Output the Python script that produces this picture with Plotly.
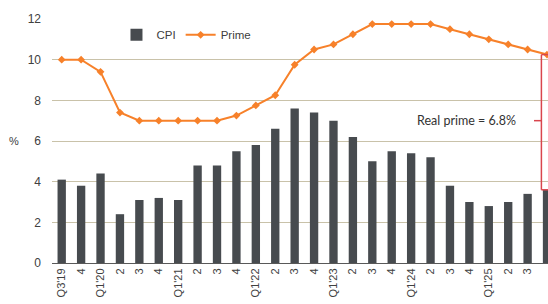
import plotly.graph_objects as go

quarters = ["Q3'19", "4", "Q1'20", "2", "3", "4", "Q1'21", "2", "3", "4", "Q1'22", "2", "3", "4",
            "Q1'23", "2", "3", "4", "Q1'24", "2", "3", "4", "Q1'25", "2", "3", "4"]
cpi = [4.1, 3.8, 4.4, 2.4, 3.1, 3.2, 3.1, 4.8, 4.8, 5.5, 5.8, 6.6, 7.6, 7.4,
       7.0, 6.2, 5.0, 5.5, 5.4, 5.2, 3.8, 3.0, 2.8, 3.0, 3.4, 3.6]
prime = [10.0, 10.0, 9.4, 7.4, 7.0, 7.0, 7.0, 7.0, 7.0, 7.25, 7.75, 8.25, 9.75, 10.5,
         10.75, 11.25, 11.75, 11.75, 11.75, 11.75, 11.5, 11.25, 11.0, 10.75, 10.5, 10.25]
y_ticks = [0, 2, 4, 6, 8, 10, 12]

x = list(range(len(quarters)))

fig = go.Figure()
fig.add_trace(go.Bar(x=x, y=cpi, name="CPI", marker=dict(color="#474b4f", line=dict(width=0)),
                     width=0.43))
fig.add_trace(go.Scatter(x=x, y=prime, name="Prime", mode="lines+markers",
                         line=dict(color="#f7812a", width=2),
                         marker=dict(symbol="diamond", size=6, color="#f7812a")))

red = "#d9454d"
bx = len(quarters) - 1 - 0.29
top = prime[-1]
bot = cpi[-1]
mid = 7.0
shapes = [
    dict(type="line", xref="x", yref="y", x0=bx, x1=bx, y0=bot, y1=top, line=dict(color=red, width=1.5)),
    dict(type="line", xref="x", yref="y", x0=bx, x1=bx + 0.5, y0=top, y1=top, line=dict(color=red, width=1.5)),
    dict(type="line", xref="x", yref="y", x0=bx, x1=bx + 0.5, y0=bot, y1=bot, line=dict(color=red, width=1.5)),
    dict(type="line", xref="x", yref="y", x0=bx - 0.38, x1=bx, y0=mid, y1=mid, line=dict(color=red, width=1.5)),
]

fig.update_layout(
    width=548, height=304,
    margin=dict(l=52, r=0, t=19, b=41, autoexpand=False),
    plot_bgcolor="white", paper_bgcolor="white",
    font=dict(family="Liberation Sans, Arial, sans-serif", size=11, color="#404040"),
    bargap=0.57,
    shapes=shapes,
    showlegend=True,
    legend=dict(orientation="h", x=0.13, y=0.935, xanchor="left", yanchor="middle",
                font=dict(size=11.5, color="#404040"), bgcolor="rgba(0,0,0,0)",
                itemwidth=30, tracegroupgap=0),
    annotations=[
        dict(text="Real prime = 6.8%", xref="x", yref="y", x=20.87, y=mid, showarrow=False,
             font=dict(family="Lato, Open Sans, sans-serif", size=12.5, color="#333333")),
        dict(text="%", xref="paper", yref="y", x=-0.09, y=6, showarrow=False, xanchor="left",
             font=dict(size=11, color="#404040")),
    ],
)
fig.update_xaxes(
    type="linear", range=[-0.5, 25.05], tickmode="array", tickvals=x, ticktext=quarters,
    tickangle=-90, showgrid=False, zeroline=False, showline=True, linecolor="#595959", linewidth=1,
    ticks="", tickfont=dict(size=11, color="#404040"), automargin=False,
)
fig.update_yaxes(
    range=[0, 12], tickvals=y_ticks, showgrid=True, gridcolor="#c9c2a9", gridwidth=1,
    zeroline=False, showline=False, ticks="", ticklabelstandoff=10, automargin=False,
    tickfont=dict(size=12, color="#404040"),
)

fig.write_html("out.html", config={"displayModeBar": False},
               post_script="document.body.style.margin='0';document.body.style.overflow='hidden';")
